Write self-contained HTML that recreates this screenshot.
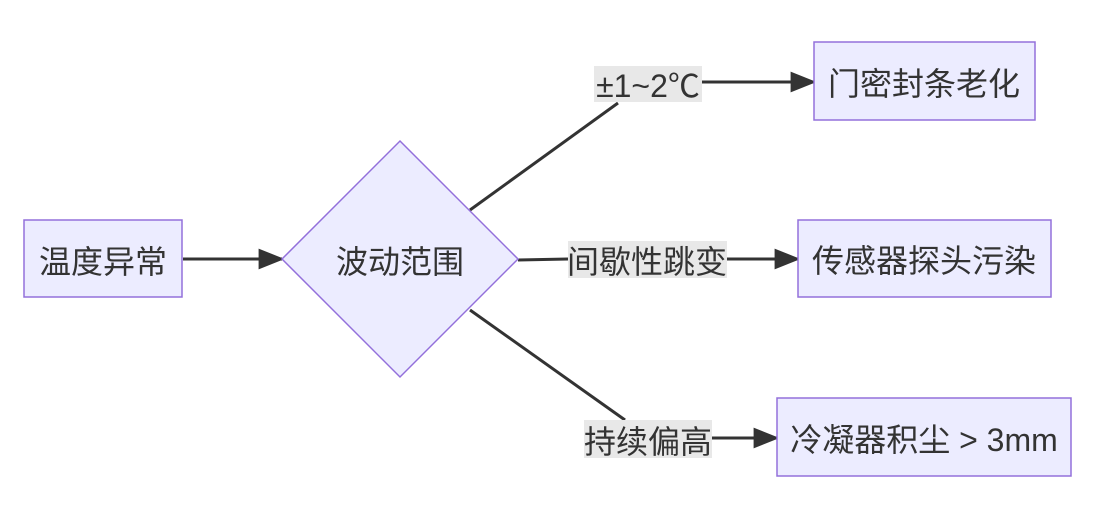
<!DOCTYPE html>
<html><head><meta charset="utf-8"><style>
html,body{margin:0;padding:0;background:#fff;}
body{width:1094px;height:508px;overflow:hidden;}
text{font-family:"Liberation Sans","Noto Sans CJK SC",sans-serif;font-size:32px;fill:#333;}
</style></head><body>
<svg width="1094" height="508" viewBox="0 0 1094 508" xmlns="http://www.w3.org/2000/svg">
<defs>
<marker id="b" viewBox="0 0 10 10" refX="9" refY="5" markerWidth="26" markerHeight="26" markerUnits="userSpaceOnUse" orient="auto"><path d="M0,1L10,5L0,9z" fill="#333"/></marker></defs>
<g stroke="#333" stroke-width="3" fill="none">
<path d="M183,259 L282,259" marker-end="url(#b)"/>
<path d="M470,210 L618,103"/>
<path d="M702,82 L814,82" marker-end="url(#b)"/>
<path d="M518,260 L568,259"/>
<path d="M727,259 L798,259" marker-end="url(#b)"/>
<path d="M470,310 L625,420"/>
<path d="M712,438 L777,438" marker-end="url(#b)"/>
</g>
<g fill="#ECECFF" stroke="#9370DB" stroke-width="1.5">
<rect x="24" y="220" width="158" height="77"/>
<polygon points="400,141 518,259 400,377 282,259"/>
<rect x="814" y="42" width="221" height="78"/>
<rect x="798" y="220" width="253" height="77"/>
<rect x="777" y="398" width="294" height="78"/>
</g>
<g fill="#e8e8e8">
<rect x="594" y="66" width="108" height="36"/>
<rect x="568" y="241" width="159" height="37"/>
<rect x="584" y="420" width="128" height="38"/>
</g>
<g text-anchor="middle" dominant-baseline="central">
<text x="103" y="262">温度异常</text>
<text x="400" y="262">波动范围</text>
<text x="924" y="84">门密封条老化</text>
<text x="924" y="261">传感器探头污染</text>
<text x="924" y="440">冷凝器积尘 &gt; 3mm</text>
<text x="648" y="86">±1~2℃</text>
<text x="647" y="262">间歇性跳变</text>
<text x="648" y="442">持续偏高</text>
</g>
</svg>
</body></html>
